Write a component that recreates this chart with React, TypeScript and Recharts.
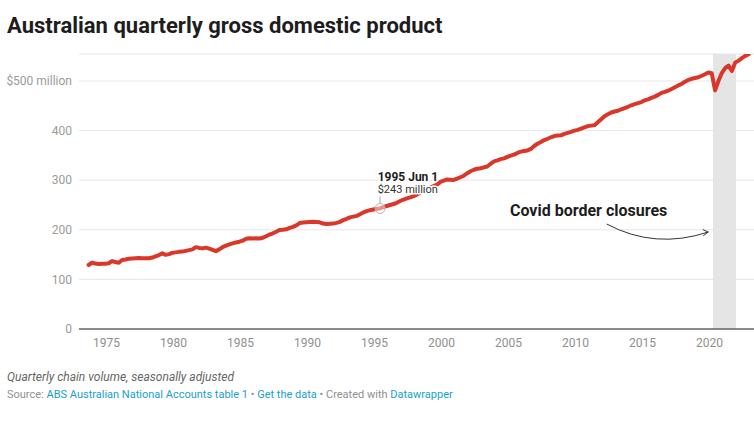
import React from 'react';
import { LineChart, Line, XAxis, YAxis, CartesianGrid, ReferenceArea, ReferenceDot } from 'recharts';

// Quarterly GDP, first quarter = Sep 1973, last = Dec 2022
const firstYear = 1973;
const firstQuarterIndex = 2; // 0=Mar,1=Jun,2=Sep,3=Dec
const quarterMonths = [3, 6, 9, 12];
const gdpValues = [
  129, 133.5,
  132, 131, 131.5, 131.5,
  132.5, 137, 135, 133.5,
  139, 140, 141.5, 142,
  142.5, 143, 142.5, 142.5,
  142.5, 144, 146.5, 149,
  152.5, 149.5, 151, 153.5,
  154.5, 155.5, 156, 157.5,
  159, 160.5, 165, 163.5,
  162.5, 164, 162, 159.5,
  157, 160.5, 165, 168,
  170.5, 172.5, 174.5, 176,
  178, 182, 183, 182.5,
  183, 182.5, 184, 187,
  190.5, 193, 196, 199.5,
  200, 201, 204, 206,
  209, 213.5, 214.5, 215,
  215.5, 216, 215.5, 215,
  212.5, 211.5, 212, 212.5,
  214, 216, 219.5, 222,
  225, 226.5, 228, 231.5,
  235, 237.5, 239.5, 241,
  242.5, 243, 245.5, 248,
  250, 252, 254.5, 258,
  261, 263.5, 265.5, 268,
  271, 275, 279, 283,
  285, 288, 291, 296.5,
  299, 301.5, 301, 300.5,
  303, 306, 309, 314,
  318, 321, 323, 324,
  326, 327.5, 333, 338,
  340, 342.5, 344, 347,
  349.5, 351.5, 355, 357.5,
  359, 360, 363, 369,
  373.5, 377, 381, 383.5,
  386.5, 389, 390, 390.5,
  393.5, 395.5, 397.5, 400,
  401.5, 404, 406.5, 409,
  410, 411, 417, 423,
  429, 433, 436.5, 438.5,
  440, 443, 445.5, 448,
  451, 453.5, 455.5, 457.5,
  461, 463, 466, 468.5,
  472, 476, 478, 480.5,
  484, 487.5, 491, 494,
  498.5, 502, 504.5, 506,
  507.5, 510.5, 513.5, 517,
  515.5, 481, 500, 516,
  526, 531, 520, 537,
  541, 546, 550.5, 554,
];
const xTicks = [1975, 1980, 1985, 1990, 1995, 2000, 2005, 2010, 2015, 2020];
const yTicks = [0, 100, 200, 300, 400, 500];
const covidStart = 2020.26;
const covidEnd = 2021.98;
const highlight = { t: 1995 + 5 / 12, v: 243, title: '1995 Jun 1', label: '$243 million' };
const covidLabel = { t: 2005.11, v: 228.4, text: 'Covid border closures' };

const data = gdpValues.map((v, i) => {
  const q = firstQuarterIndex + i;
  const year = firstYear + Math.floor(q / 4);
  const month = quarterMonths[q % 4];
  return { t: year + (month - 1) / 12, gdp: v };
});

const FONT = 'Roboto, "Noto Sans", sans-serif';
const RED = '#d9372a';

const YTick = (p: any) => {
  const { x, y, payload } = p;
  const v = payload.value;
  return (
    <text x={x} y={y} dy="0.355em" textAnchor="end" fontFamily={FONT} fontSize={12} fill="#9a9a9a">
      {v === 500 ? '$500 million' : String(v)}
    </text>
  );
};

const HighlightShape = (p: any) => {
  const { cx, cy } = p;
  return (
    <g>
      <line x1={cx} y1={cy - 5} x2={cx} y2={cy - 12} stroke="#aaa" strokeWidth={1} />
      <circle cx={cx} cy={cy} r={5} fill="rgba(255,255,255,0.45)" stroke="#b5b5b5" strokeWidth={1} />
      <text x={cx - 2.4} y={cy - 27} fontFamily={FONT} fontSize={12} fontWeight={700} fill="#1d1d1d"
        stroke="#fff" strokeWidth={3} paintOrder="stroke" strokeLinejoin="round">{highlight.title}</text>
      <text x={cx - 2.4} y={cy - 15.5} fontFamily={FONT} fontSize={11} fill="#333"
        stroke="#fff" strokeWidth={3} paintOrder="stroke" strokeLinejoin="round">{highlight.label}</text>
    </g>
  );
};

const CovidShape = (p: any) => {
  const { cx, cy } = p;
  const sx = cx + 96.7, sy = cy + 8.3;
  const qx = cx + 145, qy = cy + 34;
  const ex = cx + 198.3, ey = cy + 16.3;
  return (
    <g>
      <text x={cx} y={cy} fontFamily={FONT} fontSize={16} fontWeight={700} fill="#1d1d1d">{covidLabel.text}</text>
      <path d={`M${sx},${sy} Q${qx},${qy} ${ex},${ey}`} fill="none" stroke="#333" strokeWidth={1} />
      <path d={`M${ex - 5.5},${ey - 2.5} L${ex},${ey} L${ex - 5},${ey + 3.7}`} fill="none" stroke="#333" strokeWidth={1} />
    </g>
  );
};

export default function App() {
  return (
    <div style={{ position: 'relative', width: 754, height: 426, background: '#fff', fontFamily: FONT }}>
      <style>{`body{margin:0}`}</style>
      <div style={{ position: 'absolute', left: 7, top: 14.5, fontSize: 22, lineHeight: '22px', fontWeight: 700, color: '#1d1d1d', whiteSpace: 'nowrap' }}>
        Australian quarterly gross domestic product
      </div>
      <div style={{ position: 'absolute', left: 0, top: 0 }}>
        <LineChart width={754} height={360} data={data} margin={{ top: 54, right: 0, bottom: 0, left: 0 }}>
          <ReferenceArea x1={covidStart} x2={covidEnd} y1={0} y2={554.4} fill="#e5e5e5" fillOpacity={1} stroke="none" ifOverflow="hidden" />
          <CartesianGrid vertical={false} stroke="#e6e6e6" strokeWidth={1} />
          <XAxis dataKey="t" type="number" domain={[1972.95, 2023.32]} ticks={xTicks} allowDataOverflow
            height={31} tickLine={false} tickSize={0} tickMargin={9}
            axisLine={{ stroke: '#222', strokeWidth: 1 }}
            tick={{ fill: '#8f8f8f', fontSize: 12, fontFamily: FONT }} />
          <YAxis type="number" domain={[0, 554.4]} ticks={yTicks} allowDataOverflow width={79}
            tickLine={false} axisLine={false} tickSize={0} tickMargin={7}
            tick={YTick} />
          <Line type="linear" dataKey="gdp" stroke={RED} strokeWidth={4} dot={false} activeDot={false}
            strokeLinejoin="round" strokeLinecap="round" isAnimationActive={false} />
          <ReferenceDot x={highlight.t} y={highlight.v} ifOverflow="visible" shape={HighlightShape} />
          <ReferenceDot x={covidLabel.t} y={covidLabel.v} ifOverflow="visible" shape={CovidShape} />
        </LineChart>
      </div>
      <div style={{ position: 'absolute', left: 7, top: 370.6, fontSize: 12, lineHeight: '12px', fontStyle: 'italic', color: '#666', whiteSpace: 'nowrap' }}>
        Quarterly chain volume, seasonally adjusted
      </div>
      <div style={{ position: 'absolute', left: 7, top: 389, fontSize: 11, lineHeight: '11px', color: '#8f8f8f', whiteSpace: 'nowrap' }}>
        Source: <span style={{ color: '#18a1cd' }}>ABS Australian National Accounts table 1</span> • <span style={{ color: '#18a1cd' }}>Get the data</span> • Created with <span style={{ color: '#18a1cd' }}>Datawrapper</span>
      </div>
    </div>
  );
}
